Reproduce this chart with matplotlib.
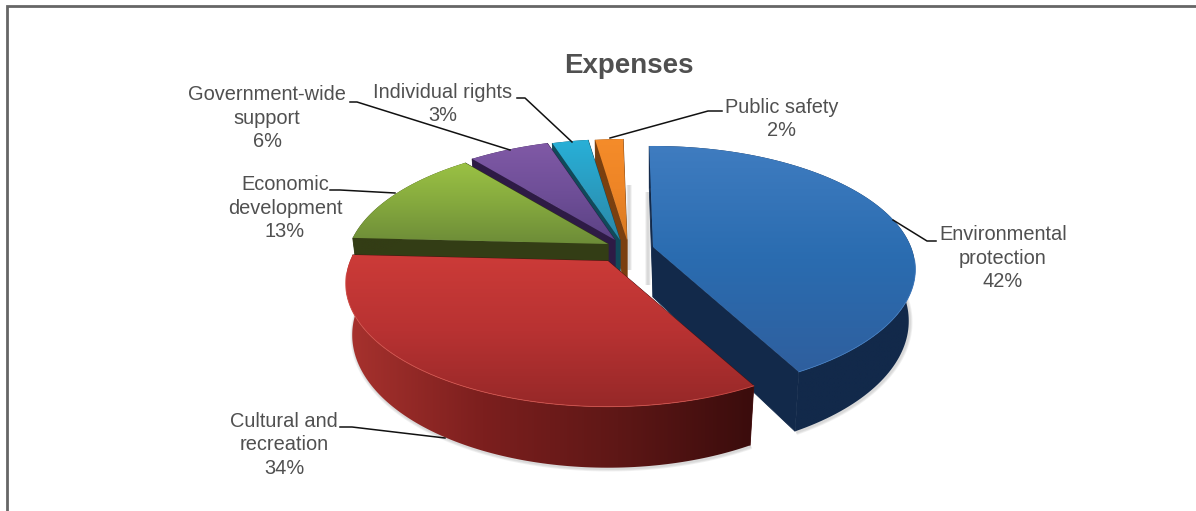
#!/usr/bin/env python3

import numpy as np
import matplotlib
matplotlib.use("Agg")
import matplotlib.pyplot as plt
from matplotlib.colors import LinearSegmentedColormap
from matplotlib.patches import PathPatch
from matplotlib.path import Path

# data, clockwise from the top (labels show them rounded)
labels = ["Environmental\nprotection", "Cultural and\nrecreation", "Economic\ndevelopment",
          "Government-wide\nsupport", "Individual rights", "Public safety"]
values = [42.4, 33.7, 13.3, 5.9, 2.65, 2.05]

# look of each slice
top_colors = [["#3f7cc0", "#2a6cb0", "#2f5f9e"], ["#cc3b38", "#b83232", "#962828"],
              ["#9bc244", "#85a93e", "#6d8c38"], ["#8059a6", "#6f4f98", "#5c4285"],
              ["#28b0d8", "#2a9cc0", "#2a88a8"], ["#f58c2a", "#ee8526", "#d87a22"]]
side_colors = [["#12294a", "#12294a"], ["#a8322e", "#7c1f1e", "#5e1716", "#3a0c0c"],
               ["#333d15", "#333d15"], ["#2e1b45", "#2e1b45"],
               ["#114a5a", "#114a5a"], ["#7a4010", "#7a4010"]]
rim_colors = ["#3f7abf", "#d0504a", None, None, None, None]
apex = [(653, 247), (608, 261), (608, 244), (615, 240), (620, 240), (627, 240)]
draw_order = [5, 4, 3, 2, 0, 1]

label_pos = [(1003, 258), (284, 445), (285, 208), (267, 118), (443, 104), (782, 119)]
leaders = [[(893, 220), (927, 241), (936, 241)],
           [(445, 438), (352, 427), (340, 427)],
           [(395, 193), (340, 190), (330, 190)],
           [(510, 150), (357, 102), (350, 102)],
           [(572, 142), (525, 98), (517, 98)],
           [(610, 138), (708, 111), (722, 111)]]
soft_edges = [[(629, 185), (629, 270)], [(648, 192), (648, 285)]]

# projection of the pie, in pixels
RX, RY, PERSP, DEPTH, TAPER = 258.0, 119.3, 0.181, 50.0, 0.975
ROTATION = -1.0

text_color = "#505050"
plt.rcParams["font.family"] = ["Liberation Sans", "DejaVu Sans"]


def project(theta, x0, y0, lower=False):
    t = np.radians(theta)
    s = 1.0 / (1.0 + PERSP * np.cos(t))
    x = RX * np.sin(t) * s
    y = y0 - RY * np.cos(t) * s
    if lower:
        return x0 + x * TAPER, y + DEPTH * s
    return x0 + x, y


def polygon(xs, ys):
    pts = np.column_stack([xs, ys])
    pts = np.vstack([pts, pts[0]])
    codes = [Path.MOVETO] + [Path.LINETO] * (len(pts) - 2) + [Path.CLOSEPOLY]
    return Path(pts, codes)


def fill_gradient(ax, path, colors, vertical, z):
    cmap = LinearSegmentedColormap.from_list("g", colors)
    grad = np.linspace(0, 1, 256)
    grad = grad[:, None] if vertical else grad[None, :]
    x0, y0 = path.vertices.min(axis=0)
    x1, y1 = path.vertices.max(axis=0)
    im = ax.imshow(grad, cmap=cmap, extent=(x0, x1, y1, y0), aspect="auto", zorder=z,
                   interpolation="bilinear")
    patch = PathPatch(path, facecolor="none", edgecolor="none", transform=ax.transData)
    ax.add_patch(patch)
    im.set_clip_path(patch)


def soft_line(ax, xs, ys, z):
    # a few wide see-through strokes make the grey drop shadow
    for width in (4, 2.8, 1.6):
        ax.plot(xs, ys, color="#808080", alpha=0.11, linewidth=width, zorder=z,
                solid_capstyle="butt")


def draw_slice(ax, i, t1, t2, z):
    x0, y0 = apex[i]
    ts = np.linspace(t1, t2, 120)
    tx, ty = project(ts, x0, y0)
    bx, by = project(ts, x0, y0, lower=True)
    dark = side_colors[i]

    if rim_colors[i]:
        front = np.cos(np.radians(ts)) < 0.1
        soft_line(ax, bx[front] + 1, by[front] + 1, z - 0.1)

    # both cut faces, then the outer wall, then the top
    for t in (t1, t2):
        rx, ry = project(t, x0, y0)
        lx, ly = project(t, x0, y0, lower=True)
        face = dark[-1] if i != 1 else "#4a1010"
        ax.add_patch(PathPatch(polygon([x0, rx, lx, x0], [y0, ry, ly, y0 + DEPTH]),
                               facecolor=face, edgecolor=face, linewidth=0.6, zorder=z))
    wall = polygon(np.r_[tx, bx[::-1]], np.r_[ty, by[::-1]])
    fill_gradient(ax, wall, dark, False, z + 0.1)
    top = polygon(np.r_[x0, tx], np.r_[y0, ty])
    fill_gradient(ax, top, top_colors[i], True, z + 0.2)

    if rim_colors[i]:
        front = np.cos(np.radians(ts)) < -0.1
        ax.plot(tx[front], ty[front], color=rim_colors[i], linewidth=0.6, zorder=z + 0.3)


fig = plt.figure(figsize=(11.96, 5.11), dpi=100)
ax = fig.add_axes([0, 0, 1, 1])
ax.axis("off")

for points in soft_edges:
    xs, ys = zip(*points)
    soft_line(ax, xs, ys, 1.5)

edges = np.r_[0, np.cumsum(values)] * 3.6 + ROTATION
for n, i in enumerate(draw_order):
    draw_slice(ax, i, edges[i], edges[i + 1], 2 + n)

# the frame only has a top and a left side
ax.plot([7, 7, 1196], [511, 6.5, 6.5], color="#666666", linewidth=2.0, zorder=1,
        solid_joinstyle="miter")

for points in leaders:
    xs, ys = zip(*points)
    ax.plot(xs, ys, color="#111111", linewidth=1.1, zorder=20)

for label, value, (x, y) in zip(labels, values, label_pos):
    ax.text(x, y, f"{label}\n{round(value)}%", ha="center", va="center", ma="center",
            fontsize=14.4, color=text_color, linespacing=1.3, zorder=21)

ax.text(629, 66, "Expenses", ha="center", va="center", fontsize=20, fontweight="bold",
        color=text_color, zorder=21)

ax.set_xlim(0, 1196)
ax.set_ylim(511, 0)
fig.savefig("out.png", dpi=100)
